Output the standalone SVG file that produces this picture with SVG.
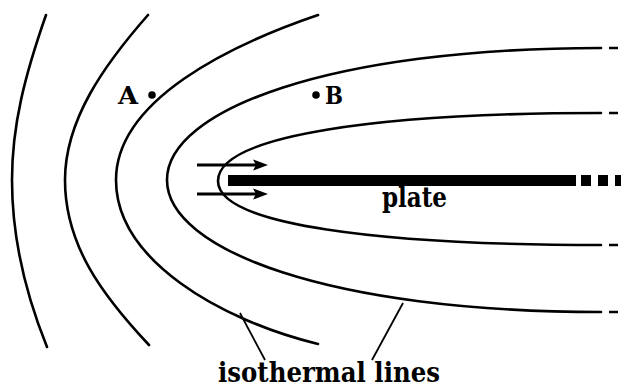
<svg xmlns="http://www.w3.org/2000/svg" width="621" height="388" viewBox="0 0 621 388">
<style>
.iso{fill:none;stroke:#000;stroke-width:2.6;stroke-linecap:round}
.dash{fill:none;stroke:#000;stroke-width:2.6}
.lead{fill:none;stroke:#000;stroke-width:1.8}
.lbl{font-family:"DejaVu Serif","Liberation Serif",serif;font-weight:bold;fill:#000}
</style>
<rect width="621" height="388" fill="#fff"/>
<g id="isotherms">
<path class="iso" d="M46,15 C25,75 12,125 12,180 C12,235 24,290 47,347"/>
<path class="iso" d="M148,15 C104,65 65,120 65,180 C65,245 102,295 149,345"/>
<path class="iso" d="M318,15 C230,45 116,100 116,180 C116,260 220,320 318,344"/>
<path class="iso" d="M601,48 C330,48 167,110 167,180 C167,250 330,312 601,312"/>
<path class="iso" d="M601,113 C380,113 218,135 218,181 C218,225 380,245 601,245"/>
<path class="dash" d="M609,48 H618 M609,113 H618 M609,245 H618 M609,312 H618"/>
</g>
<g id="plate">
<rect x="228" y="175" width="348" height="11"/>
<rect x="581" y="175" width="10" height="11"/>
<rect x="598" y="175" width="10" height="11"/>
<rect x="615" y="175" width="10" height="11"/>
<text class="lbl" x="382" y="207" font-size="27" textLength="65" lengthAdjust="spacingAndGlyphs">plate</text>
</g>
<g id="flow-arrows">
<path d="M197,165 H256" stroke="#000" stroke-width="3"/>
<polygon points="268,165 253,159.5 256,165 253,170.5"/>
<path d="M197,194 H256" stroke="#000" stroke-width="3"/>
<polygon points="268,194 253,188.5 256,194 253,199.5"/>
</g>
<g id="point-A">
<circle cx="152" cy="95" r="3.8"/>
<text class="lbl" x="118" y="104" font-size="24" textLength="20" lengthAdjust="spacingAndGlyphs">A</text>
</g>
<g id="point-B">
<circle cx="316" cy="95" r="3.8"/>
<text class="lbl" x="325" y="104" font-size="24" textLength="18" lengthAdjust="spacingAndGlyphs">B</text>
</g>
<g id="connectors">
<path class="lead" d="M240,313 L265,360"/>
<path class="lead" d="M403,303 L372,360"/>
</g>
<g id="label-isothermal">
<text class="lbl" x="218" y="382" font-size="27" textLength="222" lengthAdjust="spacingAndGlyphs">isothermal lines</text>
</g>
</svg>
